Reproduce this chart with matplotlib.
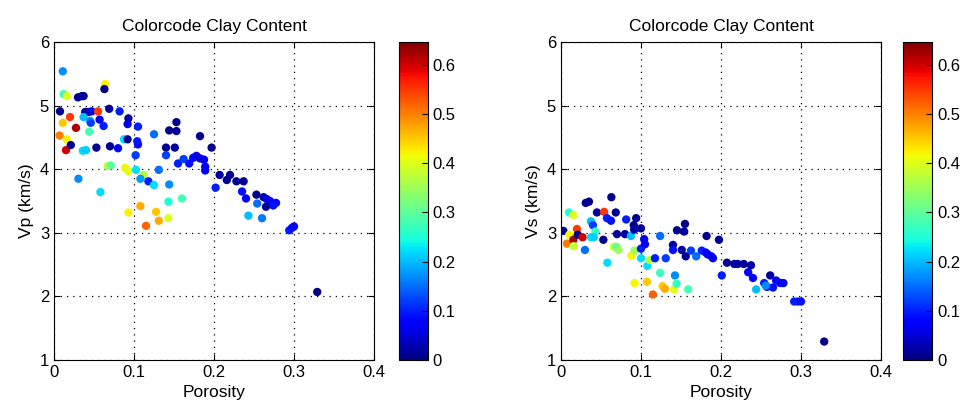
import matplotlib
matplotlib.use("Agg")
import matplotlib.pyplot as plt
import numpy as np

plt.rcParams["font.family"] = ["Liberation Sans", "DejaVu Sans"]

CLAY_MAX = 0.646

# left panel: porosity, Vp (km/s), clay fraction
phi_vp = [.011, .012, .016, .064, .063, .030, .035, .037, .0075, .020,
          .011, .007, .016, .015, .021, .0275, .039, .043, .047, .055,
          .037, .045, .046, .057, .062, .069, .082, .093, .092, .044,
          .036, .040, .053, .070, .080, .0875, .092, .105, .104, .105,
          .102, .125, .144, .153, .153, .140, .151, .140, .1825, .197,
          .155, .162, .169, .174, .178, .1825, .1875, .189, .189, .207,
          .202, .067, .071, .089, .093, .1025, .112, .108, .118, .125,
          .131, .144, .0305, .058, .160, .143, .108, .093, .1275, .131,
          .143, .115, .220, .216, .228, .237, .235, .240, .253, .262,
          .266, .270, .2775, .254, .265, .274, .243, .260, .294, .2975,
          .300, .329]
vp = [5.54, 5.18, 5.15, 5.34, 5.26, 5.13, 5.15, 5.15, 4.91, 4.82,
      4.73, 4.53, 4.47, 4.30, 4.38, 4.65, 4.90, 4.90, 4.91, 4.91,
      4.82, 4.76, 4.73, 4.78, 4.68, 4.95, 4.91, 4.80, 4.71, 4.59,
      4.29, 4.30, 4.34, 4.36, 4.33, 4.47, 4.47, 4.67, 4.44, 4.39,
      4.22, 4.55, 4.61, 4.74, 4.60, 4.34, 4.34, 4.22, 4.52, 4.34,
      4.09, 4.16, 4.09, 4.18, 4.21, 4.17, 4.15, 4.04, 3.98, 3.91,
      3.71, 4.05, 4.06, 4.02, 3.97, 3.99, 3.91, 3.85, 3.81, 3.75,
      3.99, 3.76, 3.85, 3.64, 3.54, 3.49, 3.42, 3.32, 3.33, 3.19,
      3.23, 3.11, 3.91, 3.83, 3.81, 3.81, 3.65, 3.54, 3.60, 3.56,
      3.53, 3.50, 3.47, 3.46, 3.41, 3.43, 3.27, 3.23, 3.04, 3.08,
      3.10, 2.07]
clay_vp = [.17, .27, .40, .42, .005, .015, .01, .02, .01, .55,
           .45, .50, .42, .60, .01, .62, .02, .015, .06, .55,
           .20, .18, .12, .08, .10, .02, .10, .015, .06, .28,
           .22, .21, .01, .015, .08, .22, .015, .10, .10, .09,
           .12, .15, .01, .01, .015, .015, .02, .12, .01, .01,
           .10, .12, .09, .07, .06, .05, .06, .08, .07, .02,
           .10, .37, .30, .42, .40, .22, .37, .18, .10, .22,
           .15, .17, .17, .22, .28, .25, .47, .42, .45, .47,
           .40, .52, .015, .01, .01, .015, .09, .08, .01, .02,
           .06, .07, .08, .15, .015, .09, .20, .16, .10, .09,
           .08, .005]

# right panel: porosity, Vs (km/s), clay fraction
phi_vs = [.003, .0075, .0105, .0155, .016, .010, .0155, .020, .021, .027,
          .030, .031, .035, .0375, .040, .043, .0375, .041, .045, .054,
          .053, .0575, .0625, .063, .0685, .070, .058, .066, .069, .072,
          .080, .0815, .0875, .088, .092, .091, .094, .0915, .092, .100,
          .100, .104, .105, .100, .108, .111, .1075, .115, .1175, .124,
          .131, .124, .127, .130, .1415, .1425, .1445, .159, .140, .140,
          .145, .155, .154, .151, .156, .1625, .169, .176, .181, .182,
          .1975, .1835, .188, .190, .201, .2075, .2167, .221, .2284, .2375,
          .234, .240, .244, .254, .2575, .2615, .265, .269, .274, .278,
          .256, .2915, .296, .300, .329]
vs = [3.03, 2.83, 2.97, 2.89, 2.79, 3.32, 3.28, 3.06, 2.97, 2.93,
      2.73, 3.47, 3.49, 3.18, 3.12, 3.02, 2.93, 2.93, 3.32, 3.33,
      2.89, 3.23, 3.19, 3.56, 3.32, 2.98, 2.53, 2.78, 2.78, 2.73,
      2.98, 3.21, 2.95, 2.64, 2.72, 3.12, 3.23, 3.05, 2.21, 3.07,
      2.75, 2.90, 2.82, 2.60, 2.48, 2.57, 2.23, 2.03, 2.60, 2.95,
      2.60, 2.37, 2.16, 2.12, 2.11, 2.33, 2.20, 2.11, 2.81, 2.73,
      3.04, 3.14, 3.02, 2.73, 2.63, 2.72, 2.63, 2.72, 2.69, 2.95,
      2.89, 2.66, 2.63, 2.60, 2.33, 2.53, 2.51, 2.51, 2.51, 2.49,
      2.38, 2.29, 2.11, 2.21, 2.15, 2.33, 2.14, 2.25, 2.21, 2.21,
      2.17, 1.92, 1.92, 1.92, 1.29]
clay_vs = [.005, .50, .42, .62, .38, .25, .40, .55, .01, .60,
           .15, .015, .01, .20, .12, .27, .22, .21, .015, .55,
           .01, .10, .09, .01, .015, .02, .22, .40, .30, .35,
           .02, .10, .20, .42, .35, .015, .01, .02, .42, .015,
           .10, .06, .07, .22, .22, .37, .45, .52, .10, .15,
           .12, .27, .45, .47, .40, .17, .27, .28, .02, .09,
           .01, .01, .015, .02, .015, .12, .15, .10, .09, .01,
           .015, .08, .07, .06, .10, .015, .02, .02, .015, .02,
           .08, .07, .20, .10, .08, .02, .09, .07, .08, .07,
           .17, .10, .10, .09, .005]

x_ticks = [0, 0.1, 0.2, 0.3, 0.4]
y_ticks = [1, 2, 3, 4, 5, 6]
cb_ticks = [0, 0.1, 0.2, 0.3, 0.4, 0.5, 0.6]

fig = plt.figure(figsize=(9.66, 4.12), dpi=100)
panels = [
    (0.0559, 0.413, phi_vp, vp, clay_vp, "Vp (km/s)"),
    (0.5807, 0.935, phi_vs, vs, clay_vs, "Vs (km/s)"),
]
for x0, cx0, px, py, pc, ylab in panels:
    ax = fig.add_axes([x0, 0.1262, 0.3313, 0.7718])
    sc = ax.scatter(px, py, c=pc, cmap="jet", vmin=0, vmax=CLAY_MAX,
                    s=36, edgecolors="none", zorder=3)
    ax.set_xlim(0, 0.4); ax.set_ylim(1, 6)
    ax.set_xticks(x_ticks); ax.set_yticks(y_ticks)
    ax.set_xticklabels(["0", "0.1", "0.2", "0.3", "0.4"])
    ax.grid(True, ls=(0, (1, 4)), color="black", lw=0.9)
    ax.tick_params(direction="in", top=True, right=True, labelsize=12, length=4)
    ax.set_xlabel("Porosity", fontsize=12.5)
    ax.set_ylabel(ylab, fontsize=12.5)
    ax.set_title("Colorcode Clay Content", fontsize=12.5, pad=8)
    cax = fig.add_axes([cx0, 0.1262, 0.030, 0.7718])
    cb = fig.colorbar(sc, cax=cax, ticks=cb_ticks)
    cb.ax.set_yticklabels(["0", "0.1", "0.2", "0.3", "0.4", "0.5", "0.6"])
    cb.ax.tick_params(labelsize=12, direction="in", length=4)

fig.savefig("out.png", dpi=100)
